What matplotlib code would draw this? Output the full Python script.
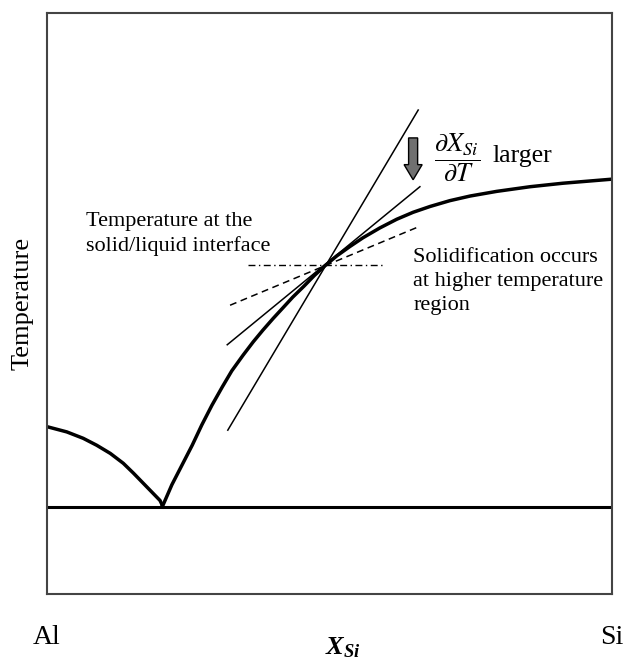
import matplotlib
matplotlib.use("Agg")
import matplotlib.pyplot as plt
from matplotlib.patches import FancyArrow

plt.rcParams["font.family"] = ["Liberation Serif", "DejaVu Serif"]
plt.rcParams["mathtext.fontset"] = "stix"
plt.rcParams["mathtext.it"] = "Liberation Serif:italic:bold"
plt.rcParams["mathtext.rm"] = "Liberation Serif:bold"
plt.rcParams["mathtext.bf"] = "Liberation Serif:bold"

# Schematic Al-Si phase diagram (composition in % Si, temperature in arbitrary units)
eutectic_T = 15.0

liq_al_x = [0.0, 3.5, 6.4, 8.8, 11.2, 13.5, 15.3, 17.0, 18.5, 19.4, 20.0, 20.3, 20.4]
liq_al_T = [28.8, 27.9, 26.8, 25.6, 24.2, 22.5, 20.8, 19.1, 17.6, 16.7, 16.1, 15.5, 15.0]

liq_si_x = [20.4, 22.1, 23.9, 25.7, 27.4, 29.2, 31.0, 32.7, 34.7, 36.5,
            38.2, 40.0, 41.8, 43.5, 45.5, 47.3, 49.2, 51.3, 53.6, 55.9,
            58.9, 61.9, 64.8, 67.8, 71.3, 74.9, 79.6, 85.5, 91.3, 100.0]
liq_si_T = [15.0, 18.8, 22.2, 25.6, 29.1, 32.5, 35.6, 38.4, 41.1, 43.4,
            45.4, 47.4, 49.3, 51.1, 53.0, 54.8, 56.5, 58.2, 59.8, 61.3,
            63.0, 64.5, 65.7, 66.7, 67.7, 68.5, 69.3, 70.1, 70.7, 71.4]

# Lines through the interface point (49.2, 56.6)
steep_x, steep_T = [32.0, 65.7], [28.2, 83.3]
tangent_x, tangent_T = [31.9, 66.0], [42.9, 70.1]
shallow_x, shallow_T = [32.4, 66.0], [49.7, 63.3]
interface_x, interface_T = [35.6, 59.8], [56.6, 56.6]

ends_x = [0, 100]
ends_labels = ["Al", "Si"]

fig = plt.figure(figsize=(6.24, 6.66), dpi=100)
ax = fig.add_axes([47 / 624, 72 / 666, 565 / 624, 581 / 666])
ax.set_xlim(0, 100)
ax.set_ylim(0, 100)

ax.plot(liq_al_x, liq_al_T, color="black", lw=2.5, solid_joinstyle="round")
ax.plot(liq_si_x, liq_si_T, color="black", lw=2.5, solid_joinstyle="round")
ax.plot([0, 100], [eutectic_T, eutectic_T], color="black", lw=2.2)

ax.plot(steep_x, steep_T, color="black", lw=1.1)
ax.plot(tangent_x, tangent_T, color="black", lw=1.1)
ax.plot(shallow_x, shallow_T, color="black", lw=1.1, dashes=(4.5, 3))
ax.plot(interface_x, interface_T, color="black", lw=1.0, dashes=(5, 2.5, 1, 2.5))

ax.add_patch(FancyArrow(64.8, 78.5, 0, -7.2, width=1.6, head_width=3.2,
                        head_length=2.6, length_includes_head=True,
                        fc="#707070", ec="black", lw=1.0))

ax.text(72.6, 75.0, r"$\dfrac{\partial X_{Si}}{\partial T}$", fontsize=19,
        ha="center", va="center", math_fontfamily="stix")
ax.text(78.8, 74.4, "larger", fontsize=18.5, ha="left", va="baseline")

ax.text(6.9, 61.9, "Temperature at the\nsolid/liquid interface", fontsize=16,
        ha="left", va="center", linespacing=1.33)
ax.text(64.8, 53.8, "Solidification occurs\nat higher temperature\nregion",
        fontsize=16, ha="left", va="center", linespacing=1.38)

ax.set_xticks(ends_x)
ax.set_xticklabels(ends_labels, fontsize=20)
ax.set_yticks([])
ax.tick_params(axis="x", length=0, pad=22)

ax.set_ylabel("Temperature", fontsize=19, labelpad=10)
ax.set_xlabel(r"$X_{Si}$", fontsize=19, math_fontfamily="custom")
ax.xaxis.set_label_coords(0.524, -0.072)

for s in ax.spines.values():
    s.set_color("#444444")
    s.set_linewidth(1.5)

fig.savefig("out.png", dpi=100, facecolor="white")
